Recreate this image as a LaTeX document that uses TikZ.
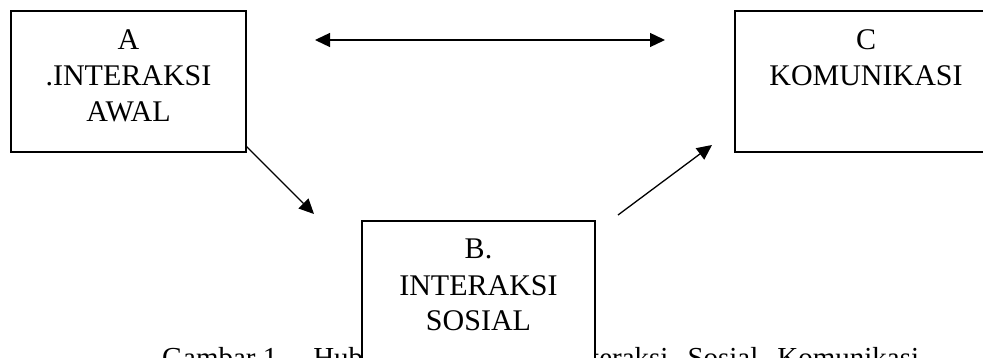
\documentclass[tikz,border=0pt]{standalone}
\usepackage{fontspec}
\setmainfont{Liberation Serif}
\usetikzlibrary{arrows.meta}
\begin{document}
\begin{tikzpicture}[x=1pt,y=-1pt,
  box/.style={draw=black,line width=1.4pt,rectangle,inner sep=0pt,fill=white},
  boxtext/.style={anchor=base,inner sep=0pt,font=\fontsize{30}{36}\selectfont},
  captext/.style={anchor=base west,inner sep=0pt,font=\fontsize{29}{35}\selectfont},
  link/.style={line width=1.3pt,-{Triangle[length=15pt,width=14pt]}},
  dlink/.style={line width=1.3pt,{Triangle[length=15pt,width=14pt]}-{Triangle[length=15pt,width=14pt]}}
]
\useasboundingbox (0,0) rectangle (983,358);
\clip (0,0) rectangle (983,358);
% caption (partly covered by box B)
\node[captext] (cap1) at (162,367) {Gambar 1.\hspace{19pt} Hub};
\node[captext] (cap2) at (591,367) {\spaceskip=19pt\relax teraksi Sosial Komunikasi};
% boxes
\node[box,minimum width=235pt,minimum height=141pt] (A) at (128.5,81.5) {};
\node[box,minimum width=262pt,minimum height=141pt] (C) at (866,81.5) {};
\node[box,minimum width=233pt,minimum height=179pt] (B) at (478.5,310.5) {};
\node[boxtext] (Atext) at (128.5,50) {\begin{tabular}[t]{@{}c@{}}A\\.INTERAKSI\\AWAL\end{tabular}};
\node[boxtext] (Ctext) at (866,50) {\begin{tabular}[t]{@{}c@{}}C\\KOMUNIKASI\end{tabular}};
\node[boxtext] (Btext) at (478.5,259) {\begin{tabular}[t]{@{}c@{}}B.\\INTERAKSI\\SOSIAL\end{tabular}};
% connectors
\coordinate (h1) at (315,40);
\coordinate (h2) at (665,40);
\draw[dlink] (h1) -- (h2);
\coordinate (abtip) at (314,214);
\draw[link] ([yshift=6pt]A.south east) -- (abtip);
\coordinate (bcstart) at (618,215);
\coordinate (bctip) at (712,145);
\draw[link] (bcstart) -- (bctip);
\end{tikzpicture}
\end{document}
